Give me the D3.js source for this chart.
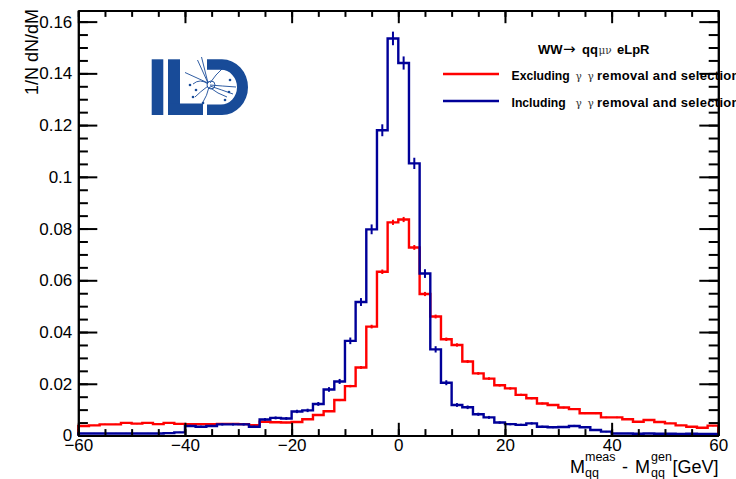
<!DOCTYPE html>
<html><head><meta charset="utf-8">
<script src="https://cdn.jsdelivr.net/npm/d3@7"></script>
<style>
html,body{margin:0;padding:0;background:#fff;overflow:hidden}
svg{display:block;font-family:"Liberation Sans",Arial,Helvetica,sans-serif}
</style></head><body>
<svg id="chart" width="736" height="479"></svg>
<script>
// Lower edges of the 2 GeV bins of the mass-resolution histograms
const binLow = [-60,-58,-56,-54,-52,-50,-48,-46,-44,-42,-40,-38,-36,-34,-32,-30,-28,-26,-24,-22,
                -20,-18,-16,-14,-12,-10,-8,-6,-4,-2,0,2,4,6,8,10,12,14,16,18,
                20,22,24,26,28,30,32,34,36,38,40,42,44,46,48,50,52,54,56,58];
const binWidth = 2;

// Normalised 1/N dN/dM, without the gamma-gamma overlay removal and selection
const excluding = [0.0037,0.0039,0.0043,0.0043,0.0049,0.0046,0.0049,0.0044,0.0049,0.0045,
                   0.0044,0.0044,0.0044,0.0045,0.0045,0.0044,0.0040,0.0053,0.0051,0.0050,
                   0.0052,0.0063,0.0079,0.0094,0.0137,0.0191,0.0263,0.0421,0.0633,0.0824,
                   0.0835,0.0727,0.0547,0.0460,0.0372,0.0350,0.0286,0.0240,0.0220,0.0194,
                   0.0182,0.0157,0.0144,0.0124,0.0118,0.0108,0.0102,0.0086,0.0086,0.0070,
                   0.0070,0.0063,0.0053,0.0060,0.0052,0.0047,0.0039,0.0034,0.0030,0.0038];

// Normalised 1/N dN/dM, with the gamma-gamma overlay removal and selection
const including = [0.0008,0.0008,0.0008,0.0008,0.0008,0.0008,0.0008,0.0008,0.0009,0.0012,
                   0.0037,0.0034,0.0037,0.0043,0.0043,0.0043,0.0034,0.0062,0.0068,0.0066,
                   0.0093,0.0097,0.0122,0.0178,0.0209,0.0366,0.0516,0.0797,0.1180,0.1535,
                   0.1440,0.1052,0.0626,0.0333,0.0204,0.0118,0.0109,0.0082,0.0070,0.0050,
                   0.0044,0.0041,0.0047,0.0034,0.0032,0.0033,0.0037,0.0032,0.0021,0.0015,
                   0.0008,0.0008,0.0007,0.0008,0.0007,0.0007,0.0006,0.0007,0.0006,0.0006];

// Per-entry weight used for the Poisson error bars of each normalised histogram
const errWeightExcluding = 1.2e-5;
const errWeightIncluding = 4.5e-5;

const xTickValues = [-60,-40,-20,0,20,40,60];
const xTickLabels = ["\u221260","\u221240","\u221220","0","20","40","60"];
const yTickValues = [0,0.02,0.04,0.06,0.08,0.1,0.12,0.14,0.16];
const yTickLabels = ["0","0.02","0.04","0.06","0.08","0.1","0.12","0.14","0.16"];

const legendEntries = [
  {name: "Excluding", color: "#ff0000", values: excluding, errW: errWeightExcluding},
  {name: "Including", color: "#000099", values: including, errW: errWeightIncluding}
];

const svg = d3.select("#chart");
const frame = {left: 78.3, right: 718.3, top: 10.5, bottom: 435.5};

const x = d3.scaleLinear().domain([-60, 60]).range([frame.left, frame.right]);
const y = d3.scaleLinear().domain([0, 0.1643]).range([frame.bottom, frame.top]);

// ---- histograms (step outline + statistical error bars)
const line = d3.line().x(d => d[0]).y(d => d[1]);
function stepPoints(vals) {
  const pts = [[x(binLow[0]), y(0)]];
  vals.forEach((v, i) => {
    pts.push([x(binLow[i]), y(v)]);
    pts.push([x(binLow[i] + binWidth), y(v)]);
  });
  pts.push([x(binLow[binLow.length - 1] + binWidth), y(0)]);
  return pts;
}
const plot = svg.append("g");
legendEntries.forEach(s => {
  plot.append("path")
    .attr("d", line(stepPoints(s.values)))
    .attr("fill", "none").attr("stroke", s.color)
    .attr("stroke-width", 2.4).attr("stroke-linejoin", "miter");
  plot.append("g").selectAll("line").data(s.values).join("line")
    .attr("x1", (d, i) => x(binLow[i] + binWidth / 2))
    .attr("x2", (d, i) => x(binLow[i] + binWidth / 2))
    .attr("y1", d => y(d + Math.sqrt(d * s.errW)))
    .attr("y2", d => y(d - Math.sqrt(d * s.errW)))
    .attr("stroke", s.color).attr("stroke-width", 2);
});

// ---- axes: ticks point into the frame on all four sides
const axisStyle = g => {
  g.selectAll(".domain").attr("stroke", "#000").attr("stroke-width", 2);
  g.selectAll(".tick line").attr("stroke", "#000").attr("stroke-width", 2);
  g.selectAll("text").attr("font-family", "'Liberation Sans',Arial,sans-serif")
    .attr("font-size", 17).attr("fill", "#000");
};
const xMinor = d3.range(-60, 60.1, 5);
const yMinor = d3.range(0, 0.1641, 0.005);

svg.append("g").attr("transform", `translate(0,${frame.bottom})`)
  .call(d3.axisBottom(x).tickValues(xMinor).tickSize(-6.4).tickSizeOuter(0).tickFormat(""))
  .call(axisStyle);
svg.append("g").attr("transform", `translate(0,${frame.bottom})`)
  .call(d3.axisBottom(x).tickValues(xTickValues).tickSize(-12.7).tickSizeOuter(0).tickPadding(3.5)
    .tickFormat((d, i) => xTickLabels[i]))
  .call(axisStyle);
svg.append("g").attr("transform", `translate(0,${frame.top})`)
  .call(d3.axisTop(x).tickValues(xMinor).tickSize(-6.4).tickSizeOuter(0).tickFormat(""))
  .call(axisStyle);
svg.append("g").attr("transform", `translate(0,${frame.top})`)
  .call(d3.axisTop(x).tickValues(xTickValues).tickSize(-12.7).tickSizeOuter(0).tickFormat(""))
  .call(axisStyle);

svg.append("g").attr("transform", `translate(${frame.left},0)`)
  .call(d3.axisLeft(y).tickValues(yMinor).tickSize(-9.6).tickSizeOuter(0).tickFormat(""))
  .call(axisStyle);
svg.append("g").attr("transform", `translate(${frame.left},0)`)
  .call(d3.axisLeft(y).tickValues(yTickValues).tickSize(-19).tickSizeOuter(0).tickPadding(6)
    .tickFormat((d, i) => yTickLabels[i]))
  .call(axisStyle);
svg.append("g").attr("transform", `translate(${frame.right},0)`)
  .call(d3.axisRight(y).tickValues(yMinor).tickSize(-9.6).tickSizeOuter(0).tickFormat(""))
  .call(axisStyle);
svg.append("g").attr("transform", `translate(${frame.right},0)`)
  .call(d3.axisRight(y).tickValues(yTickValues).tickSize(-19).tickSizeOuter(0).tickFormat(""))
  .call(axisStyle);

// ---- axis titles
svg.append("text")
  .attr("transform", "translate(38,9) rotate(-90)")
  .attr("text-anchor", "end").attr("font-size", 18)
  .text("1/N dN/dM");

const xt = svg.append("g").attr("font-size", 18);
xt.append("text").attr("x", 570).attr("y", 473).text("M");
xt.append("text").attr("x", 585).attr("y", 461).attr("font-size", 12.5).text("meas");
xt.append("text").attr("x", 585).attr("y", 477).attr("font-size", 12.5).text("qq");
xt.append("text").attr("x", 622).attr("y", 473).text("-");
xt.append("text").attr("x", 635).attr("y", 473).text("M");
xt.append("text").attr("x", 651).attr("y", 461).attr("font-size", 12.5).text("gen");
xt.append("text").attr("x", 651).attr("y", 477).attr("font-size", 12.5).text("qq");
xt.append("text").attr("x", 672.5).attr("y", 473).text("[GeV]");

// ---- legend
const greek = t => t.attr("font-weight", "normal").attr("font-family", "'DejaVu Serif',serif")
  .attr("font-size", 10.5).attr("fill", "#333");
const lg = svg.append("g").attr("font-size", 13).attr("font-weight", "bold");
const title = lg.append("text").attr("y", 54);
title.append("tspan").attr("x", 538).text("WW");
title.append("tspan").attr("x", 563).attr("font-weight", "normal")
  .attr("font-family", "'DejaVu Sans',sans-serif").attr("font-size", 15).text("\u2192");
title.append("tspan").attr("x", 582).text("qq");
title.append("tspan").attr("x", 598.5).call(greek).text("\u03bc\u03bd");
title.append("tspan").attr("x", 617).text("eLpR");

legendEntries.forEach((s, i) => {
  const ly = 74 + i * 27;
  lg.append("line").attr("x1", 443).attr("x2", 499).attr("y1", ly).attr("y2", ly)
    .attr("stroke", s.color).attr("stroke-width", 2.4);
  const t = lg.append("text").attr("y", ly + 5.5);
  t.append("tspan").attr("x", 511.5).attr("font-size", 12.2).text(s.name);
  t.append("tspan").attr("x", 575.5).call(greek).text("\u03b3");
  t.append("tspan").attr("x", 587.5).call(greek).text("\u03b3");
  t.append("tspan").attr("x", 597).attr("letter-spacing", 0.3).text("removal and selection");
});

// ---- ILD logo
const logoBlue = "#184b98";
const logo = svg.append("g").attr("fill", logoBlue);
logo.append("rect").attr("x", 151.7).attr("y", 59.3).attr("width", 11.6).attr("height", 55.7);
logo.append("rect").attr("x", 168).attr("y", 59.3).attr("width", 12).attr("height", 55.7);
logo.append("rect").attr("x", 168).attr("y", 103.5).attr("width", 35).attr("height", 11.5);
logo.append("path").attr("d",
  "M207,59.3 H222 A26,27.85 0 0 1 248,87.15 A26,27.85 0 0 1 222,115 H207 V104.5 H221 " +
  "A16,17.35 0 0 0 237,87.15 A16,17.35 0 0 0 221,69.8 H207 Z");
const trk = svg.append("g").attr("stroke", logoBlue).attr("fill", "none").attr("stroke-width", 0.9);
trk.append("line").attr("x1", 208).attr("y1", 83).attr("x2", 185).attr("y2", 72.5);
trk.append("line").attr("x1", 208).attr("y1", 83).attr("x2", 201.5).attr("y2", 57);
trk.append("line").attr("x1", 208).attr("y1", 83).attr("x2", 197.5).attr("y2", 60);
trk.append("path").attr("d", "M210,85 Q222,86 236,87");
trk.append("path").attr("d", "M210,86 Q222,90 233,94");
trk.append("path").attr("d", "M209,87 Q218,94 227,97");
trk.append("path").attr("d", "M208,84 Q200,78 193,84");
trk.append("path").attr("d", "M208,86 Q200,92 195,97");
trk.append("path").attr("d", "M209,87 Q207,96 203,102");
trk.append("path").attr("d", "M210,83 Q216,74 222,69");
trk.append("circle").attr("cx", 211).attr("cy", 85).attr("r", 4);
[[190,85],[193,97],[203,103],[225,100],[230,80],[221.5,68.5],[196,90],[229,92]].forEach(p => {
  svg.append("circle").attr("cx", p[0]).attr("cy", p[1]).attr("r", 1.3).attr("fill", logoBlue);
});
</script>
</body></html>
